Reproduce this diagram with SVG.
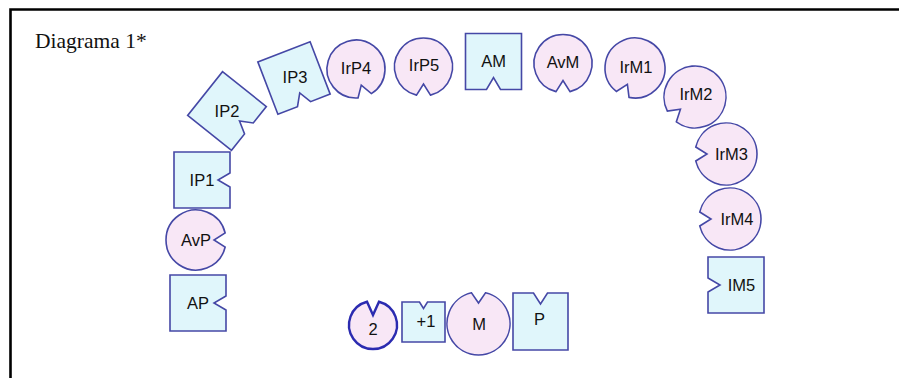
<svg xmlns="http://www.w3.org/2000/svg" xmlns:xlink="http://www.w3.org/1999/xlink" width="899" height="378" viewBox="0 0 899 378">
<style>
.sq{fill:#e0f6fb;stroke:#4548a6;stroke-width:1.6;stroke-linejoin:miter}
.ci{fill:#f8e7f6;stroke:#4548a6;stroke-width:1.6}
.lb{font-family:"Liberation Sans",Arial,sans-serif;font-size:16.5px;fill:#111;text-anchor:middle}
.ttl{font-family:"Liberation Serif","Times New Roman",serif;font-size:21.5px;fill:#111}
</style>
<defs>
<path id="sq56" d="M-28,-28H28V-7L16,0L28,7V28H-28Z"/>
<path id="c29" d="M28.14,-7A29,29 0 1 0 28.14,7L17,0Z"/>
<path id="c30" d="M29.17,-7A30,30 0 1 0 29.17,7L18,0Z"/>
<path id="c31" d="M30.2,-7A31,31 0 1 0 30.2,7L19,0Z"/>
</defs>
<rect x="0" y="0" width="899" height="378" fill="#fff"/>
<path d="M10.5,378V9.5H899" fill="none" stroke="#000" stroke-width="2.6"/>
<text class="ttl" x="35" y="48">Diagrama 1*</text>

<g id="AP"><use xlink:href="#sq56" class="sq" transform="translate(198,303)"/><text class="lb" x="198" y="308.5">AP</text></g>
<g id="AvP"><use xlink:href="#c30" class="ci" transform="translate(196,240)"/><text class="lb" x="196" y="245.5">AvP</text></g>
<g id="IP1"><use xlink:href="#sq56" class="sq" transform="translate(202,180)"/><text class="lb" x="202" y="186">IP1</text></g>
<g id="IP2"><use xlink:href="#sq56" class="sq" transform="translate(227,111) rotate(38.5)"/><text class="lb" x="227" y="117">IP2</text></g>
<g id="IP3"><use xlink:href="#sq56" class="sq" transform="translate(294,78) rotate(69)"/><text class="lb" x="295" y="83">IP3</text></g>
<g id="IrP4"><use xlink:href="#c29" class="ci" transform="translate(356,69) rotate(72)"/><text class="lb" x="356" y="74">IrP4</text></g>
<g id="IrP5"><use xlink:href="#c29" class="ci" transform="translate(423.5,67) rotate(90)"/><text class="lb" x="424" y="71">IrP5</text></g>
<g id="AM"><use xlink:href="#sq56" class="sq" transform="translate(493.5,61.5) rotate(90)"/><text class="lb" x="493.5" y="67">AM</text></g>
<g id="AvM"><use xlink:href="#c29" class="ci" transform="translate(563,63.5) rotate(90)"/><text class="lb" x="563" y="68">AvM</text></g>
<g id="IrM1"><use xlink:href="#c30" class="ci" transform="translate(635,68) rotate(115)"/><text class="lb" x="636" y="73">IrM1</text></g>
<g id="IrM2"><use xlink:href="#c31" class="ci" transform="translate(695,97) rotate(140)"/><text class="lb" x="696" y="100">IrM2</text></g>
<g id="IrM3"><use xlink:href="#c31" class="ci" transform="translate(726,154) rotate(180)"/><text class="lb" x="731.5" y="160">IrM3</text></g>
<g id="IrM4"><use xlink:href="#c31" class="ci" transform="translate(730,219) rotate(180)"/><text class="lb" x="737" y="225">IrM4</text></g>
<g id="IM5"><use xlink:href="#sq56" class="sq" transform="translate(736,285) rotate(180)"/><text class="lb" x="741.5" y="291">IM5</text></g>

<g id="n2"><path d="M-6,-23.24A24,24 0 1 0 6,-23.24L0,-10Z" transform="translate(373,325)" fill="#f8e7f6" stroke="#2b2bb0" stroke-width="2.4"/><text class="lb" x="373" y="335">2</text></g>
<g id="plus1"><path d="M-21.5,-20H-4L0,-13.5L4,-20H21.5V20H-21.5Z" transform="translate(423.5,322)" class="sq"/><text class="lb" x="426" y="327">+1</text></g>
<g id="M"><path d="M-7,-30.71A31.5,31.5 0 1 0 7,-30.71L0,-20.5Z" transform="translate(478.5,323.5)" class="ci"/><text class="lb" x="479" y="330">M</text></g>
<g id="P"><path d="M-27.5,-28.5H-7L0,-17.5L7,-28.5H27.5V28.5H-27.5Z" transform="translate(540.5,321.5)" class="sq"/><text class="lb" x="539.5" y="325">P</text></g>
<g id="connectors"></g>
</svg>
